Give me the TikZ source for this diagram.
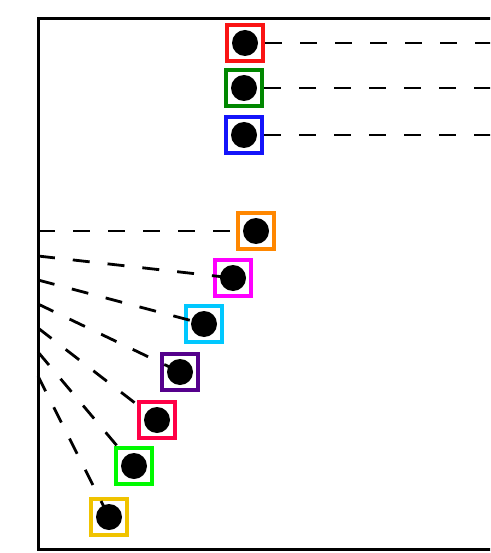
\documentclass[tikz,border=0pt]{standalone}
\usepackage{tikz}

\definecolor{cRed}{RGB}{250,20,20}
\definecolor{cGreen}{RGB}{0,135,0}
\definecolor{cBlue}{RGB}{20,20,250}
\definecolor{cOrange}{RGB}{255,135,0}
\definecolor{cMagenta}{RGB}{255,0,255}
\definecolor{cCyan}{RGB}{0,200,255}
\definecolor{cPurple}{RGB}{85,0,140}
\definecolor{cCrimson}{RGB}{255,0,70}
\definecolor{cLime}{RGB}{0,250,0}
\definecolor{cGold}{RGB}{240,195,0}

\begin{document}
\begin{tikzpicture}[x=1pt, y=-1pt]
    % Khung hình và vùng cắt
    \useasboundingbox (0,0) rectangle (490,553);
    \clip (0,0) rectangle (490,553);

    % Kiểu nét
    \tikzset{
        c_frame/.style={line width=3pt, color=black},
        c_dash/.style={line width=2.8pt, color=black, dash pattern=on 17pt off 18pt},
        c_box/.style={draw, line width=4pt, minimum size=36pt, inner sep=0pt}
    }

    \draw[c_frame] (38,18.5) rectangle (530,549.5);

    % Các điểm trên tường trái
    \coordinate (L1) at (38,231);
    \coordinate (L2) at (38,256);
    \coordinate (L3) at (38,280);
    \coordinate (L4) at (38,304);
    \coordinate (L5) at (38,328);
    \coordinate (L6) at (38,352);
    \coordinate (L7) at (38,376);

    % Điểm kéo dài sang phải
    \coordinate (R1) at (500,43);
    \coordinate (R2) at (500,88);
    \coordinate (R3) at (500,135);

    % Ba ô phía trên
    \node[c_box, draw=cRed] (t1) at (245,43) {};
    \node[c_box, draw=cGreen] (t2) at (244,88) {};
    \node[c_box, draw=cBlue] (t3) at (244,135) {};

    % Bảy ô phía dưới
    \node[c_box, draw=cOrange] (b1) at (256,231) {};
    \node[c_box, draw=cMagenta] (b2) at (233,278) {};
    \node[c_box, draw=cCyan] (b3) at (204,324) {};
    \node[c_box, draw=cPurple] (b4) at (180,372) {};
    \node[c_box, draw=cCrimson] (b5) at (157,420) {};
    \node[c_box, draw=cLime] (b6) at (134,466) {};
    \node[c_box, draw=cGold] (b7) at (109,517) {};

    % Đường nét đứt
    \foreach \i in {1,2,3} {
        \draw[c_dash] (t\i.east) -- (R\i);
    }
    \foreach \i in {1,...,7} {
        \draw[c_dash] (L\i) -- (b\i.center);
    }

    % Chấm tròn đen
    \foreach \p in {t1,t2,t3,b1,b2,b3,b4,b5,b6,b7} {
        \fill[black] (\p.center) circle (13pt);
    }
\end{tikzpicture}
\end{document}
